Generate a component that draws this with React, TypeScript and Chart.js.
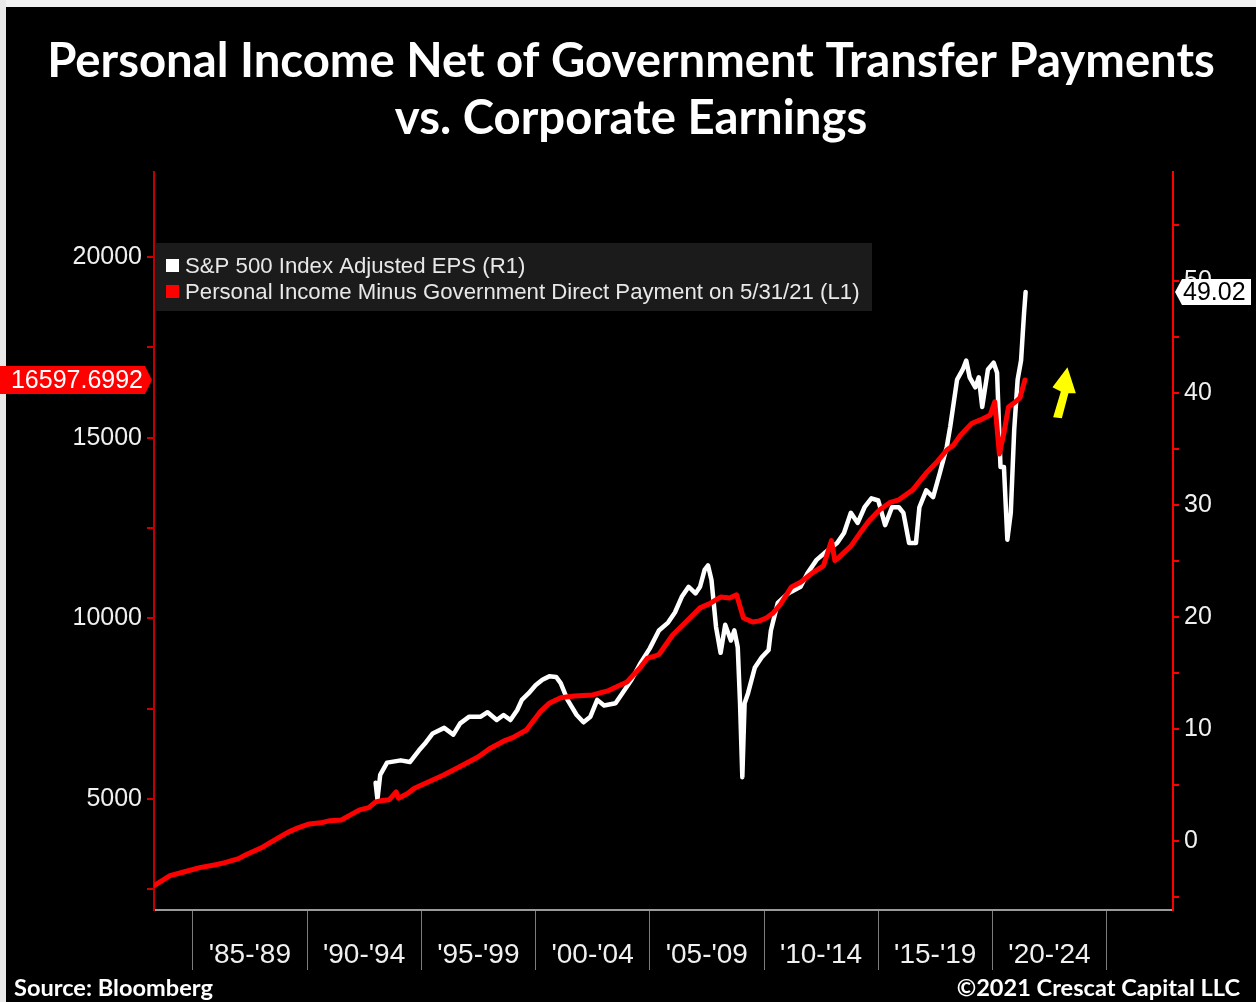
import React, { useEffect, useRef } from 'react';
import { Chart, registerables } from 'chart.js';

Chart.register(...registerables);

// ---------- DATA ----------
const titleLines = ['Personal Income Net of Government Transfer Payments', 'vs. Corporate Earnings'];
const seriesNames = ['S&P 500 Index Adjusted EPS (R1)', 'Personal Income Minus Government Direct Payment on 5/31/21 (L1)'];
const sourceText = 'Source: Bloomberg';
const copyrightText = '©2021 Crescat Capital LLC';

const xTickYears = [1985, 1990, 1995, 2000, 2005, 2010, 2015, 2020, 2025];
const xTickLabels = ["'85-'89", "'90-'94", "'95-'99", "'00-'04", "'05-'09", "'10-'14", "'15-'19", "'20-'24", ''];
const leftTicks = [2500, 5000, 7500, 10000, 12500, 15000, 17500, 20000];
const rightTicks = [-5, 0, 5, 10, 15, 20, 25, 30, 35, 40, 45, 50, 55];

// Personal income minus government direct payments (left axis)
const redYears = [
  1983.3, 1984.0, 1984.6, 1985.3, 1986.0, 1986.4, 1987.0, 1987.3, 1988.0, 1988.4,
  1989.0, 1989.2, 1989.6, 1990.1, 1990.6, 1991.0, 1991.5, 1991.9, 1992.3, 1992.7,
  1993.0, 1993.3, 1993.6, 1993.9, 1994.0, 1994.4, 1994.7, 1995.4, 1996.0, 1996.7,
  1997.5, 1998.0, 1998.6, 1999.0, 1999.6, 2000.2, 2000.6, 2001.1, 2001.7, 2002.5,
  2003.2, 2004.0, 2004.6, 2004.9, 2005.2, 2005.4, 2006.0, 2006.5, 2007.2, 2007.6,
  2008.1, 2008.5, 2008.8, 2009.1, 2009.5, 2009.8, 2010.1, 2010.4, 2010.7, 2011.2,
  2011.6, 2012.1, 2012.6, 2012.95, 2013.1, 2013.3, 2013.8, 2014.2, 2014.6, 2015.05,
  2015.5, 2015.9, 2016.5, 2017.1, 2017.6, 2018.0, 2018.3, 2018.6, 2019.1, 2019.5,
  2019.9, 2020.1, 2020.3, 2020.5, 2020.7, 2021.0, 2021.2, 2021.42,
];
const redValues = [
  2600, 2880, 2980, 3100, 3180, 3240, 3350, 3450, 3650, 3800,
  4020, 4090, 4200, 4310, 4340, 4400, 4420, 4560, 4700, 4760,
  4920, 4960, 4980, 5200, 5020, 5150, 5300, 5500, 5670, 5900,
  6170, 6400, 6600, 6700, 6910, 7410, 7650, 7800, 7850, 7880,
  8000, 8240, 8650, 8900, 8950, 9000, 9540, 9850, 10290, 10400,
  10590, 10560, 10650, 10010, 9900, 9930, 10010, 10150, 10370, 10870,
  11000, 11250, 11450, 12150, 11600, 11700, 12000, 12360, 12700, 13000,
  13200, 13280, 13550, 14020, 14350, 14660, 14800, 15070, 15400, 15500,
  15630, 15990, 14550, 15130, 15850, 15990, 16100, 16597.6992,
];

// S&P 500 adjusted EPS (right axis)
const whiteYears = [
  1993.0, 1993.08, 1993.2, 1993.5, 1994.1, 1994.5, 1994.9, 1995.2, 1995.5, 1996.0,
  1996.4, 1996.7, 1997.1, 1997.6, 1997.9, 1998.3, 1998.6, 1998.9, 1999.2, 1999.4,
  1999.7, 2000.0, 2000.3, 2000.6, 2000.9, 2001.1, 2001.4, 2001.8, 2002.1, 2002.4,
  2002.7, 2003.0, 2003.5, 2003.8, 2004.2, 2004.6, 2005.0, 2005.4, 2005.8, 2006.1,
  2006.4, 2006.7, 2007.0, 2007.2, 2007.4, 2007.55, 2007.7, 2007.9, 2008.1, 2008.3,
  2008.55, 2008.7, 2008.85, 2008.95, 2009.05, 2009.15, 2009.3, 2009.6, 2009.9, 2010.2,
  2010.3, 2010.6, 2011.05, 2011.6, 2011.9, 2012.3, 2012.7, 2013.2, 2013.5, 2013.8,
  2014.1, 2014.4, 2014.7, 2015.0, 2015.3, 2015.6, 2015.9, 2016.1, 2016.35, 2016.65,
  2016.8, 2017.1, 2017.4, 2017.7, 2018.0, 2018.15, 2018.45, 2018.7, 2018.85, 2019.0,
  2019.25, 2019.4, 2019.55, 2019.8, 2020.05, 2020.2, 2020.35, 2020.5, 2020.65, 2020.8,
  2020.95, 2021.1, 2021.25, 2021.38, 2021.45,
];
const whiteValues = [
  5.2, 3.7, 5.9, 7.0, 7.2, 7.05, 8.1, 8.8, 9.6, 10.1,
  9.5, 10.5, 11.1, 11.1, 11.5, 10.8, 11.25, 10.8, 11.7, 12.6,
  13.2, 13.9, 14.4, 14.7, 14.65, 14.1, 12.6, 11.25, 10.6, 11.1,
  12.6, 12.1, 12.3, 13.2, 14.4, 15.9, 17.2, 18.8, 19.5, 20.4,
  21.8, 22.7, 22.1, 22.7, 24.2, 24.6, 23.3, 19.1, 16.8, 19.3,
  17.9, 18.8, 17.3, 12.3, 5.7, 12.3, 13.2, 15.5, 16.4, 17.05,
  18.8, 21.25, 22.1, 22.7, 23.9, 25.1, 25.8, 26.6, 27.5, 29.3,
  28.4, 29.8, 30.6, 30.4, 28.2, 29.8, 29.8, 29.3, 26.6, 26.6,
  29.8, 31.3, 30.7, 32.9, 35.2, 37.0, 41.2, 42.1, 42.9, 41.4,
  40.5, 41.4, 38.75, 42.1, 42.7, 41.8, 33.4, 33.4, 26.9, 29.3,
  36.7, 41.2, 42.9, 47.1, 49.02,
];

// ---------- STYLE ----------
const W = 1256;
const H = 1002;
const tickFamily = "'Liberation Sans', Arial, sans-serif";
const titleFamily = "Lato, 'Open Sans', sans-serif";

function fitSize(ctx: CanvasRenderingContext2D, text: string, weight: string, family: string, target: number) {
  ctx.font = `${weight} 100px ${family}`;
  const w = ctx.measureText(text).width;
  return (100 * target) / w;
}

const decorPlugin = {
  id: 'decor',
  beforeDraw(chart: any) {
    const ctx = chart.ctx as CanvasRenderingContext2D;
    ctx.save();
    ctx.fillStyle = '#000000';
    ctx.fillRect(0, 0, W, H);
    ctx.fillStyle = '#f2f2f2';
    ctx.fillRect(0, 0, W, 7);
    ctx.fillStyle = '#e9e9e9';
    ctx.fillRect(0, 0, 6, H);
    ctx.restore();
  },
  afterDraw(chart: any) {
    const ctx = chart.ctx as CanvasRenderingContext2D;
    const xs = chart.scales.x;
    const yl = chart.scales.yL;
    const yr = chart.scales.yR;
    const area = chart.chartArea;
    ctx.save();

    // Title
    const ts = fitSize(ctx, titleLines[0], 'bold', titleFamily, 1168);
    ctx.font = `bold ${ts}px ${titleFamily}`;
    ctx.fillStyle = '#ffffff';
    ctx.textAlign = 'center';
    ctx.textBaseline = 'alphabetic';
    ctx.fillText(titleLines[0], 631, 77);
    ctx.fillText(titleLines[1], 631, 134);

    // Footer
    const fs = fitSize(ctx, sourceText, 'bold', titleFamily, 199);
    ctx.font = `bold ${fs}px ${titleFamily}`;
    ctx.textBaseline = 'middle';
    ctx.textAlign = 'left';
    ctx.fillText(sourceText, 14, 988);
    ctx.textAlign = 'right';
    ctx.fillText(copyrightText, 1240, 988);

    // Legend
    ctx.fillStyle = '#1b1b1b';
    ctx.fillRect(area.left + 2, 243, 716, 68);
    const lsz = fitSize(ctx, seriesNames[1], 'normal', tickFamily, 675);
    ctx.font = `${lsz}px ${tickFamily}`;
    ctx.textAlign = 'left';
    ctx.textBaseline = 'alphabetic';
    const legendColors = ['#ffffff', '#ff0000'];
    [0, 1].forEach((i) => {
      const top = 259 + i * 26;
      ctx.fillStyle = legendColors[i];
      ctx.fillRect(area.left + 12, top, 13, 13);
      ctx.fillStyle = '#e8e8e8';
      ctx.fillText(seriesNames[i], area.left + 31, top + 14);
    });

    // Last value flags
    const lastRed = redValues[redValues.length - 1];
    const ly = yl.getPixelForValue(lastRed);
    ctx.fillStyle = '#ff0000';
    ctx.beginPath();
    ctx.moveTo(0, ly - 14);
    ctx.lineTo(area.left - 9, ly - 14);
    ctx.lineTo(area.left - 2, ly);
    ctx.lineTo(area.left - 9, ly + 14);
    ctx.lineTo(0, ly + 14);
    ctx.closePath();
    ctx.fill();
    ctx.fillStyle = '#ffffff';
    ctx.font = `25px ${tickFamily}`;
    ctx.textAlign = 'right';
    ctx.textBaseline = 'middle';
    ctx.fillText(String(lastRed), area.left - 11, ly + 1);

    const lastWhite = whiteValues[whiteValues.length - 1];
    const ry = yr.getPixelForValue(lastWhite);
    ctx.fillStyle = '#ffffff';
    ctx.beginPath();
    ctx.moveTo(area.right + 2, ry);
    ctx.lineTo(area.right + 9, ry - 13);
    ctx.lineTo(1251, ry - 13);
    ctx.lineTo(1251, ry + 13);
    ctx.lineTo(area.right + 9, ry + 13);
    ctx.closePath();
    ctx.fill();
    ctx.fillStyle = '#000000';
    ctx.textAlign = 'left';
    ctx.fillText(lastWhite.toFixed(2), area.right + 10, ry + 1);

    // Yellow arrow
    const tx = xs.getPixelForValue(2023.28);
    const ty = yr.getPixelForValue(42.3);
    const pts = [[0, 0], [8.4, 26], [1, 26], [-5.6, 51], [-14.3, 50], [-6.6, 24.4], [-15, 20]];
    ctx.fillStyle = '#ffff00';
    ctx.beginPath();
    pts.forEach(([dx, dy], i) => {
      if (i === 0) ctx.moveTo(tx + dx, ty + dy);
      else ctx.lineTo(tx + dx, ty + dy);
    });
    ctx.closePath();
    ctx.fill();

    ctx.restore();
  },
};

export default function App() {
  const ref = useRef<HTMLCanvasElement | null>(null);

  useEffect(() => {
    document.body.style.margin = '0';
    document.body.style.background = '#000';
    const canvas = ref.current;
    if (!canvas) return;

    const chart = new Chart(canvas, {
      type: 'line',
      data: {
        datasets: [
          {
            label: seriesNames[1],
            data: redYears.map((x, i) => ({ x, y: redValues[i] })),
            yAxisID: 'yL',
            borderColor: '#ff0000',
            borderWidth: 5,
            pointRadius: 0,
            tension: 0,
            borderJoinStyle: 'round',
            borderCapStyle: 'round',
          },
          {
            label: seriesNames[0],
            data: whiteYears.map((x, i) => ({ x, y: whiteValues[i] })),
            yAxisID: 'yR',
            borderColor: '#ffffff',
            borderWidth: 4.5,
            pointRadius: 0,
            tension: 0,
            borderJoinStyle: 'round',
            borderCapStyle: 'round',
          },
        ],
      },
      options: {
        responsive: false,
        animation: false,
        devicePixelRatio: 1,
        parsing: false as any,
        layout: { padding: { top: 172, left: 0, right: 0, bottom: 0 } },
        plugins: {
          legend: { display: false },
          title: { display: false },
          tooltip: { enabled: false },
        },
        scales: {
          x: {
            type: 'linear',
            position: 'bottom',
            min: 1983.3,
            max: 2027.9,
            afterBuildTicks: (s: any) => {
              s.ticks = xTickYears.map((v) => ({ value: v }));
            },
            afterFit: (s: any) => {
              s.height = 92;
            },
            grid: {
              drawOnChartArea: false,
              drawTicks: true,
              tickLength: 60,
              color: '#7c7c7c',
              lineWidth: 1,
            },
            border: { display: true, color: '#9a9a9a', width: 2 },
            ticks: {
              autoSkip: false,
              maxRotation: 0,
              minRotation: 0,
              labelOffset: 57,
              padding: -32,
              color: '#f0f0f0',
              font: { family: tickFamily, size: 28 },
              callback: (v: any) => {
                const i = xTickYears.indexOf(Number(v));
                return i >= 0 ? xTickLabels[i] : '';
              },
            },
          },
          yL: {
            type: 'linear',
            position: 'left',
            min: 1928,
            max: 22353,
            afterBuildTicks: (s: any) => {
              s.ticks = leftTicks.map((v) => ({ value: v }));
            },
            afterFit: (s: any) => {
              s.width = 154;
            },
            grid: { drawOnChartArea: false, drawTicks: true, tickLength: 7, color: '#d00000', lineWidth: 2 },
            border: { display: true, color: '#c00000', width: 2 },
            ticks: {
              autoSkip: false,
              padding: 5,
              color: '#f0f0f0',
              font: { family: tickFamily, size: 25 },
              callback: (v: any) => (Number(v) % 5000 === 0 ? String(v) : ''),
            },
          },
          yR: {
            type: 'linear',
            position: 'right',
            min: -6.16,
            max: 59.73,
            afterBuildTicks: (s: any) => {
              s.ticks = rightTicks.map((v) => ({ value: v }));
            },
            afterFit: (s: any) => {
              s.width = 83;
            },
            grid: { drawOnChartArea: false, drawTicks: true, tickLength: 6, color: '#ff0000', lineWidth: 2 },
            border: { display: true, color: '#ff0000', width: 2 },
            ticks: {
              autoSkip: false,
              padding: 5,
              color: '#f0f0f0',
              font: { family: tickFamily, size: 25 },
              callback: (v: any) => (Number(v) % 10 === 0 ? String(v) : ''),
            },
          },
        },
      },
      plugins: [decorPlugin],
    } as any);

    return () => chart.destroy();
  }, []);

  return (
    <div style={{ position: 'fixed', left: 0, top: 0, width: W, height: H, background: '#000' }}>
      <canvas ref={ref} width={W} height={H} style={{ display: 'block', width: W, height: H }} />
    </div>
  );
}
